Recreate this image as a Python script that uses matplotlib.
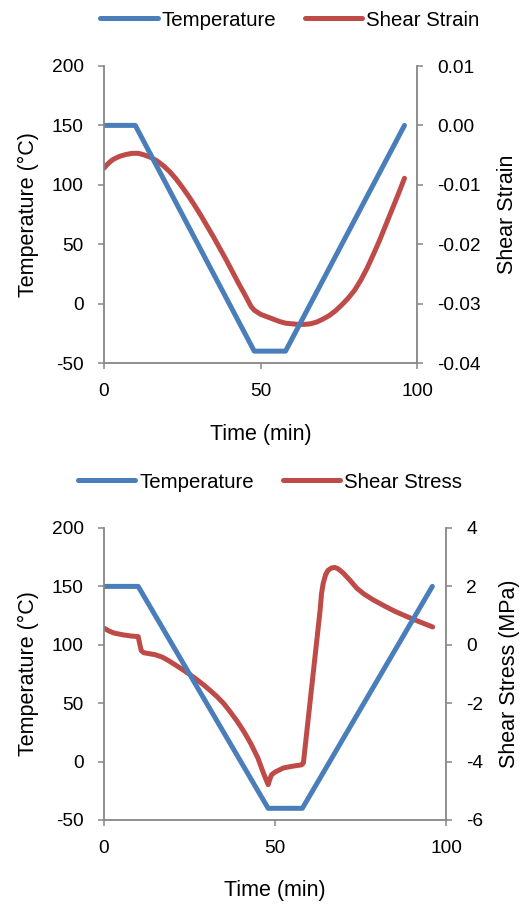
import matplotlib
matplotlib.use("Agg")
import matplotlib.pyplot as plt
from matplotlib.ticker import FixedLocator, FuncFormatter

plt.rcParams['font.family'] = ['Liberation Sans', 'DejaVu Sans']
plt.rcParams['axes.unicode_minus'] = False

# Temperature program (same for both tests)
temp_time = [0, 10, 48, 58, 96]
temp_values = [150, 150, -40, -40, 150]

# Shear strain response
strain_time = [0, 1, 2, 3, 5, 7, 9, 11, 13, 15, 17, 19, 21, 23, 25, 27, 29, 31,
               33, 35, 37, 39, 41, 43, 45, 47, 48, 50, 52, 54, 56, 58, 60, 62,
               64, 66, 68, 70, 72, 74, 76, 78, 80, 82, 84, 86, 88, 90, 92, 94, 96]
strain_values = [-0.0072, -0.0066, -0.0061, -0.0057, -0.0052, -0.0049, -0.0047,
                 -0.0047, -0.0050, -0.0054, -0.0060, -0.0068, -0.0078, -0.0090,
                 -0.0104, -0.0119, -0.0135, -0.0152, -0.0170, -0.0188, -0.0207,
                 -0.0226, -0.0246, -0.0266, -0.0285, -0.0305, -0.0311, -0.0318,
                 -0.0322, -0.0326, -0.0330, -0.0333, -0.0334, -0.0335, -0.0335,
                 -0.0334, -0.0331, -0.0326, -0.0320, -0.0312, -0.0302, -0.0291,
                 -0.0278, -0.0261, -0.0241, -0.0218, -0.0194, -0.0168, -0.0142,
                 -0.0116, -0.0089]

# Shear stress response (MPa)
stress_time = [0, 1.5, 3, 5.6, 8, 10.0, 10.5, 10.9, 11.6, 13, 15, 17, 19, 21, 23,
               25, 27, 29, 31, 33, 35, 37, 39, 41, 43, 45, 46.6, 48.0, 48.5, 49.0,
               50, 52.4, 55, 57.8, 58.3, 63.2, 63.6, 64.1, 64.8, 65.5, 66.5, 67.5,
               68.5, 70, 72, 73.9, 76, 78.7, 82, 85, 88.5, 92, 96.1]
stress_values = [0.57, 0.47, 0.40, 0.34, 0.30, 0.28, 0.0, -0.20, -0.27, -0.30,
                 -0.34, -0.42, -0.55, -0.70, -0.85, -1.01, -1.18, -1.36, -1.56,
                 -1.77, -2.01, -2.31, -2.63, -2.99, -3.40, -3.88, -4.39, -4.79,
                 -4.60, -4.45, -4.36, -4.22, -4.16, -4.11, -4.05, 1.2, 1.75, 2.11,
                 2.40, 2.55, 2.63, 2.65, 2.60, 2.45, 2.20, 1.94, 1.74, 1.54, 1.33,
                 1.15, 0.97, 0.80, 0.61]

time_ticks = [0, 50, 100]
temp_ticks = [-50, 0, 50, 100, 150, 200]
strain_ticks = [-0.04, -0.03, -0.02, -0.01, 0.00, 0.01]
stress_ticks = [-6, -4, -2, 0, 2, 4]

BLUE = '#4A7EBB'
RED = '#BE4B48'
GREY = '#868686'
LW = 3.6
TICK_FS = 13.8
LABEL_FS = 15.5
LEGEND_FS = 14.7

W, H = 523, 909
fig = plt.figure(figsize=(W / 100, H / 100), dpi=100)


def style_axis(ax, sides):
    for s in ['top', 'left', 'right', 'bottom']:
        ax.spines[s].set_visible(s in sides)
        ax.spines[s].set_color(GREY)
        ax.spines[s].set_linewidth(1.3)
    ax.tick_params(direction='out', length=4.5, width=1.1, color=GREY,
                   labelsize=TICK_FS, pad=10)
    ax.patch.set_visible(False)


def make_panel(rect, right_ticks, right_lim, right_fmt, right_label,
               sec_time, sec_values, sec_name, legend_xy, xlabel_y,
               left_label_x, right_label_x):
    ax = fig.add_axes(rect)
    ax2 = ax.twinx()
    style_axis(ax, ['left', 'bottom'])
    style_axis(ax2, ['right'])

    l1, = ax.plot(temp_time, temp_values, color=BLUE, lw=LW,
                  solid_capstyle='round', solid_joinstyle='round', label='Temperature')
    l2, = ax2.plot(sec_time, sec_values, color=RED, lw=LW,
                   solid_capstyle='round', solid_joinstyle='round', label=sec_name)
    ax.set_zorder(ax2.get_zorder() + 1)

    ax.set_xlim(0, 100)
    ax.set_ylim(-50, 200)
    ax.xaxis.set_major_locator(FixedLocator(time_ticks))
    ax.yaxis.set_major_locator(FixedLocator(temp_ticks))
    ax2.set_ylim(*right_lim)
    ax2.yaxis.set_major_locator(FixedLocator(right_ticks))
    ax2.yaxis.set_major_formatter(FuncFormatter(right_fmt))

    ax.set_xlabel('Time (min)', fontsize=LABEL_FS, va='center')
    ax.xaxis.set_label_coords(0.5, xlabel_y)
    ax.set_ylabel('Temperature (°C)', fontsize=LABEL_FS, va='center')
    ax.yaxis.set_label_coords(left_label_x, 0.5)
    ax2.set_ylabel(right_label, fontsize=LABEL_FS, va='center')
    ax2.yaxis.set_label_coords(right_label_x, 0.5)

    fig.legend([l1, l2], ['Temperature', sec_name], loc='center',
               bbox_to_anchor=legend_xy, ncol=2, frameon=False,
               fontsize=LEGEND_FS, handlelength=2.8, handletextpad=0.2,
               columnspacing=1.4)
    return ax, ax2


# Upper panel: temperature and shear strain
make_panel([104 / W, 1 - 363 / H, 313 / W, 297 / H],
           strain_ticks, (-0.04, 0.01),
           lambda v, p: f'{v:.2f}' if abs(v) > 1e-9 else '0.00',
           'Shear Strain', strain_time, strain_values, 'Shear Strain',
           (290 / W, 1 - 20 / H), -0.242, -0.243, 1.29)

# Lower panel: temperature and shear stress
make_panel([104 / W, 1 - 820 / H, 342 / W, 292 / H],
           stress_ticks, (-6, 4),
           lambda v, p: f'{v:.0f}',
           'Shear Stress (MPa)', stress_time, stress_values, 'Shear Stress',
           (270 / W, 1 - 482 / H), -0.24, -0.22, 1.187)

fig.savefig('out.png', dpi=100)
